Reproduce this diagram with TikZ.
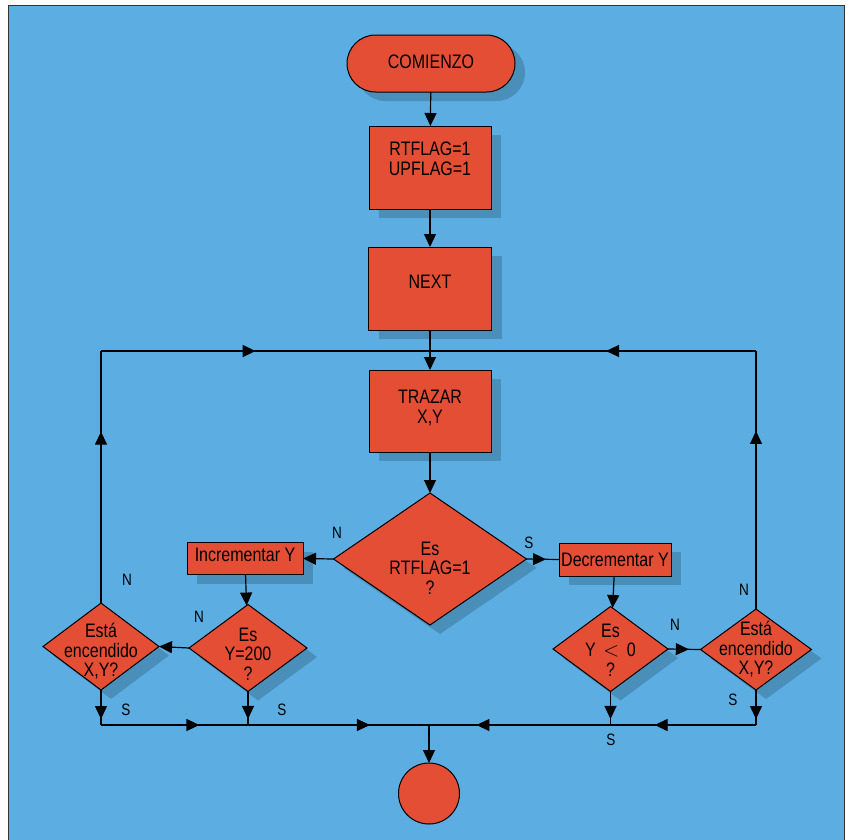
\documentclass[tikz,border=0pt]{standalone}
\usepackage{fontspec}
\setmainfont{Liberation Sans}[FakeStretch=0.82]
\usetikzlibrary{shapes.geometric,shapes.misc,arrows.meta,decorations.markings,shadows}
\definecolor{bgblue}{RGB}{92,174,226}
\definecolor{shcol}{RGB}{72,138,178}
\definecolor{boxred}{RGB}{228,78,52}
\newcommand\ctext[2]{\raisebox{#1}[0pt][0pt]{\makebox[0pt]{\begin{tabular}{@{}c@{}}#2\end{tabular}}}}
\tikzset{
  >={Triangle[length=13pt,width=12pt]},
  shad/.style={drop shadow={shadow xshift=10pt,shadow yshift=-9pt,fill=shcol,opacity=0.85}},
  base/.style={draw=black,line width=1pt,fill=boxred,inner sep=0pt,outer sep=0pt,
    font=\fontsize{19.5}{19.5}\selectfont},
  term/.style={base,shad,rounded rectangle},
  procbox/.style={base,shad,rectangle},
  decis/.style={base,shad,diamond},
  endnode/.style={base,circle},
  conn/.style={line width=1.2pt,black},
  mk/.style={postaction={decorate,decoration={markings,mark=at position #1 with {\arrow{>}}}}},
  lab/.style={font=\fontsize{16.5}{17}\selectfont,inner sep=0pt}
}
\begin{document}
\begin{tikzpicture}[x=1pt,y=-1pt]
\useasboundingbox (0,0) rectangle (849,839);
\fill[white] (0,0) rectangle (849,839);
\filldraw[fill=bgblue,draw=black!80,line width=1pt] (8.5,5.5) rectangle (844.5,845);
% nodes
\node[term,minimum width=168pt,minimum height=57pt] (start) at (431,63.5) {\ctext{-6pt}{COMIENZO}};
\node[procbox,minimum width=122pt,minimum height=83pt] (init) at (430,167.5) {\ctext{0.5pt}{RTFLAG=1\\UPFLAG=1}};
\node[procbox,minimum width=123pt,minimum height=83pt] (next) at (430,288.5) {\ctext{-1.5pt}{NEXT}};
\node[procbox,minimum width=122pt,minimum height=82pt] (plot) at (430,411) {\ctext{-4pt}{TRAZAR\\X,Y}};
\node[decis,minimum width=193pt,minimum height=132pt] (dRT) at (430,559) {\ctext{-17pt}{Es\\RTFLAG=1\\?}};
\node[procbox,minimum width=116pt,minimum height=32pt] (inc) at (245,558.5) {\ctext{-4.5pt}{Incrementar Y}};
\node[procbox,minimum width=112pt,minimum height=33pt] (dec) at (615,559.5) {\ctext{-8pt}{Decrementar Y}};
\node[decis,minimum width=118pt,minimum height=87pt] (dY200) at (248,648) {\ctext{-14pt}{Es\\Y=200\\?}};
\node[decis,minimum width=116pt,minimum height=87pt] (estL) at (101,646.5) {\ctext{-11.5pt}{Está\\encendido\\X,Y?}};
\node[decis,minimum width=115pt,minimum height=85pt] (dY0) at (610.5,649) {\ctext{-9pt}{Es\\Y \,$<$\, 0\\?}};
\node[decis,minimum width=111pt,minimum height=81pt] (estR) at (756,649.5) {\ctext{-6.5pt}{Está\\encendido\\X,Y?}};
\node[endnode,minimum size=61pt] (endc) at (429,793.5) {};
% junction coordinates
\coordinate (jtop) at (430,351);
\coordinate (cL) at (101,351);
\coordinate (cR) at (756,351);
\coordinate (jbot) at (429,725);
\coordinate (bL) at (101,725);
\coordinate (bR) at (756,725);
\coordinate (jY200) at (248,725);
\coordinate (jY0) at (610.5,725);
% connectors
\draw[conn,->] (start) -- (init);
\draw[conn,->] (init) -- (next);
\draw[conn,->] (next) -- (plot);
\draw[conn,->] (plot) -- (dRT);
\draw[conn,->] (dRT.west) -- (inc.east);
\draw[conn,mk=0.6] (dRT.east) -- (dec.west);
\draw[conn,->] (inc) -- (dY200);
\draw[conn,->] (dec) -- (dY0);
\draw[conn,->] (dY200.west) -- (estL.east);
\draw[conn,mk=0.64] (dY0.east) -- (estR.west);
\draw[conn,mk=0.68] (estL.north) -- (cL);
\draw[conn,mk=0.47] (cL) -- (jtop);
\draw[conn,mk=0.69] (estR.north) -- (cR);
\draw[conn,mk=0.46] (cR) -- (jtop);
\draw[conn,mk=0.83] (estL.south) -- (bL);
\draw[conn,mk=0.3,mk=0.82] (bL) -- (jbot);
\draw[conn,mk=0.82] (dY200.south) -- (jY200);
\draw[conn,mk=0.82] (dY0.south) -- (jY0);
\draw[conn,mk=0.83] (estR.south) -- (bR);
\draw[conn,mk=0.31,mk=0.855] (bR) -- (jbot);
\draw[conn,->] (jbot) -- (endc);
% labels
\node[lab] (nRT) at (337,533) {N};
\node[lab] (sRT) at (529,543) {S};
\node[lab] (nEL) at (127,580) {N};
\node[lab] (nY200) at (199,617) {N};
\node[lab] (sEL) at (126,710) {S};
\node[lab] (sY200) at (282,710) {S};
\node[lab] (nY0) at (675,625) {N};
\node[lab] (nER) at (744,590) {N};
\node[lab] (sER) at (733,700) {S};
\node[lab] (sY0) at (611,740) {S};
\end{tikzpicture}
\end{document}
